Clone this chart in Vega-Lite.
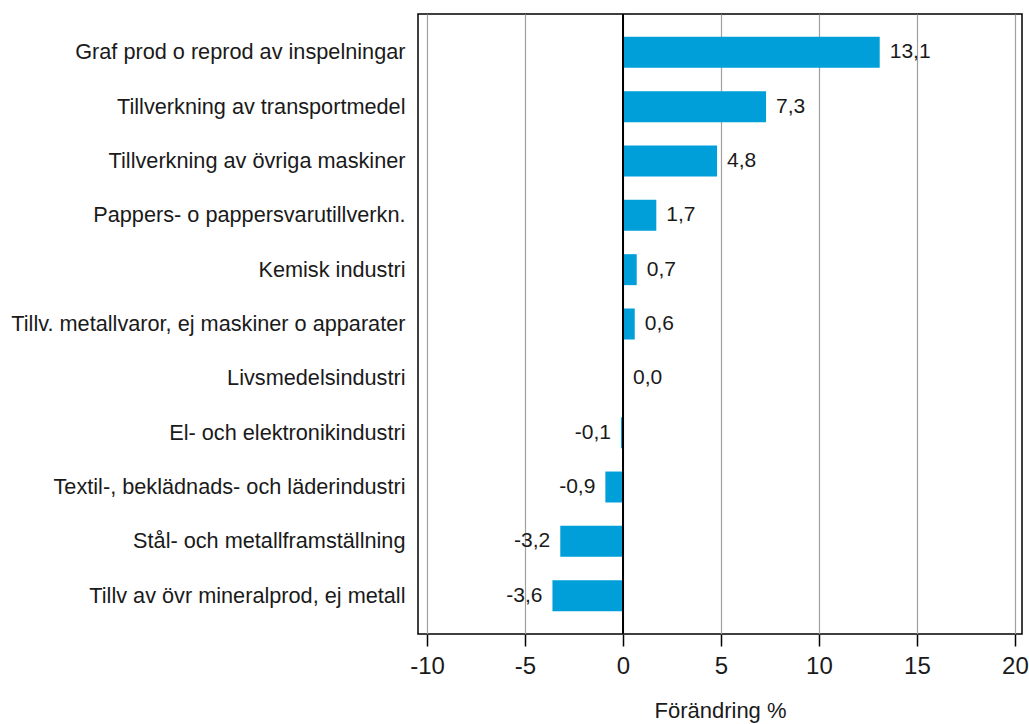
{
  "$schema": "https://vega.github.io/schema/vega-lite/v6.json",
  "width": 604,
  "height": 620,
  "autosize": "none",
  "padding": {"left": 418, "top": 14, "right": 7, "bottom": 90},
  "background": "#ffffff",
  "config": {
    "locale": {"number": {"decimal": ",", "thousands": " ", "grouping": [3], "currency": ["", ""], "minus": "-"}},
    "view": {"stroke": "#000000", "strokeWidth": 1.5},
    "font": "Liberation Sans"
  },
  "data": {"values": [
    {"bransch": "Graf prod o reprod av inspelningar", "v": 13.1},
    {"bransch": "Tillverkning av transportmedel", "v": 7.3},
    {"bransch": "Tillverkning av övriga maskiner", "v": 4.8},
    {"bransch": "Pappers- o pappersvarutillverkn.", "v": 1.7},
    {"bransch": "Kemisk industri", "v": 0.7},
    {"bransch": "Tillv. metallvaror, ej maskiner o apparater", "v": 0.6},
    {"bransch": "Livsmedelsindustri", "v": 0.0},
    {"bransch": "El- och elektronikindustri", "v": -0.1},
    {"bransch": "Textil-, beklädnads- och läderindustri", "v": -0.9},
    {"bransch": "Stål- och metallframställning", "v": -3.2},
    {"bransch": "Tillv av övr mineralprod, ej metall", "v": -3.6}
  ]},
  "encoding": {
    "y": {
      "field": "bransch", "type": "nominal", "sort": null,
      "scale": {"paddingInner": 0.43, "paddingOuter": 0.42},
      "axis": {"title": null, "ticks": false, "domain": false, "labelFontSize": 21.7, "labelColor": "#1a1a1a", "labelPadding": 13, "labelLimit": 420}
    },
    "x": {
      "field": "v", "type": "quantitative",
      "scale": {"domain": [-10.46, 20.36], "nice": false, "zero": false},
      "axis": {
        "title": "Förändring %", "titleFontSize": 22, "titleFontWeight": "normal", "titleColor": "#1a1a1a", "titlePadding": 22,
        "values": [-10, -5, 0, 5, 10, 15, 20], "format": "d",
        "labelFontSize": 24, "labelColor": "#1a1a1a", "labelPadding": 8,
        "tickSize": 12, "tickColor": "#000000", "tickWidth": 1.5, "domain": false,
        "grid": true, "gridColor": "#a0a0a0", "gridWidth": 1.2
      }
    }
  },
  "layer": [
    {"mark": {"type": "bar", "color": "#009FDA"}},
    {"mark": {"type": "rule", "color": "#000000", "strokeWidth": 1.5}, "encoding": {"x": {"datum": 0}, "y": {"value": 0}, "y2": {"value": 620}}},
    {
      "transform": [{"filter": "datum.v >= 0"}],
      "mark": {"type": "text", "align": "left", "dx": 10, "fontSize": 21, "color": "#1a1a1a"},
      "encoding": {"text": {"field": "v", "type": "quantitative", "format": ".1f"}}
    },
    {
      "transform": [{"filter": "datum.v < 0"}],
      "mark": {"type": "text", "align": "right", "dx": -10, "fontSize": 21, "color": "#1a1a1a"},
      "encoding": {"text": {"field": "v", "type": "quantitative", "format": ".1f"}}
    }
  ]
}
